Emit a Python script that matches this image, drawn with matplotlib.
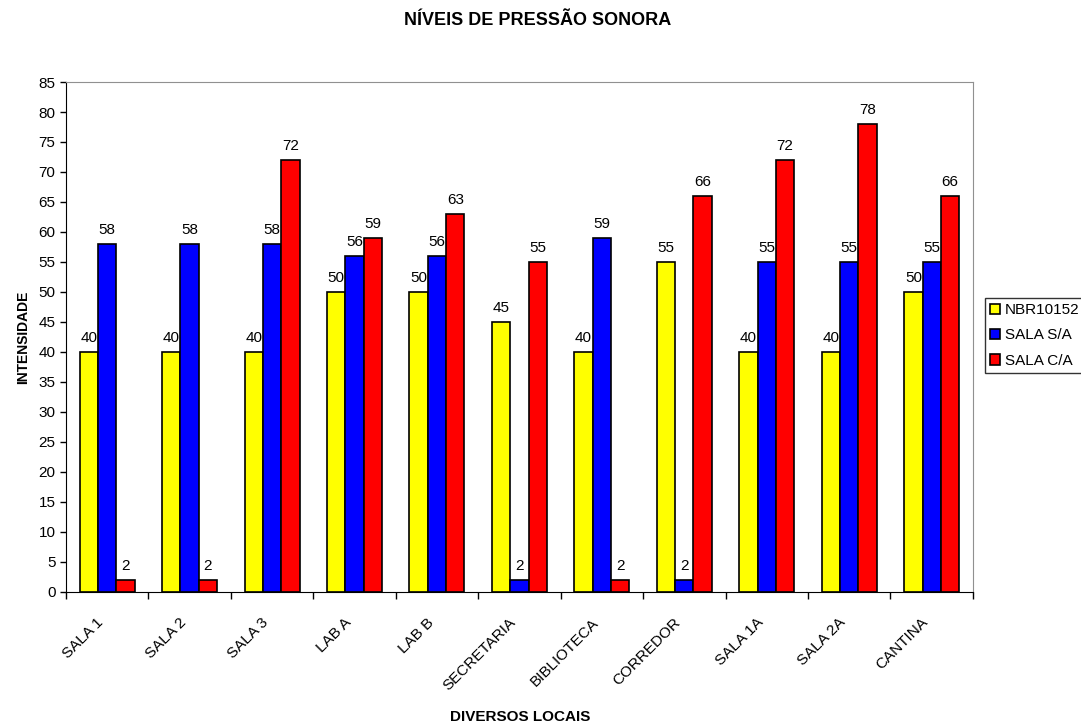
import numpy as np
import matplotlib
matplotlib.use("Agg")
import matplotlib.pyplot as plt

plt.rcParams.update({"font.family": ["Liberation Sans", "DejaVu Sans"], "font.size": 11})

locais = ["SALA 1", "SALA 2", "SALA 3", "LAB A", "LAB B", "SECRETARIA",
          "BIBLIOTECA", "CORREDOR", "SALA 1A", "SALA 2A", "CANTINA"]
nbr10152 = [40, 40, 40, 50, 50, 45, 40, 55, 40, 40, 50]
sala_sa = [58, 58, 58, 56, 56, 2, 59, 2, 55, 55, 55]
sala_ca = [2, 2, 72, 59, 63, 55, 2, 66, 72, 78, 66]
series = [("NBR10152", nbr10152, "#ffff00"),
          ("SALA S/A", sala_sa, "#0000ff"),
          ("SALA C/A", sala_ca, "#ff0000")]

fig = plt.figure(figsize=(10.81, 7.26), dpi=100)
ax = fig.add_axes([0.061, 0.185, 0.839, 0.702])

x = np.arange(len(locais))
w = 2 / 9
for i, (name, vals, col) in enumerate(series):
    pos = x + (i - 1) * w
    ax.bar(pos, vals, width=w, color=col, edgecolor="black", linewidth=1.2, label=name)
    for p, v in zip(pos, vals):
        ax.annotate(str(v), (p, v), xytext=(0, 5), textcoords="offset points",
                    ha="center", va="bottom", fontsize=11)

ax.set_xlim(-0.5, len(locais) - 0.5)
ax.set_ylim(0, 85)
ax.set_yticks(range(0, 90, 5))
# label anchors sit a little left of the group centres, as in the original
ax.set_xticks(x - 0.13)
ax.set_xticklabels(locais, rotation=45, ha="right", rotation_mode="anchor")
ax.set_xticks(np.arange(-0.5, len(locais)), minor=True)
ax.tick_params(axis="x", which="major", length=0, pad=17)
ax.tick_params(axis="x", which="minor", length=5, width=1, direction="out")
ax.tick_params(axis="y", length=4, width=1, direction="out")
for s in ("top", "right"):
    ax.spines[s].set_color("#909090")
for s in ("left", "bottom"):
    ax.spines[s].set_color("black")

ax.set_ylabel("INTENSIDADE", fontweight="bold", fontsize=10, labelpad=6)
fig.text(0.481, 0.013, "DIVERSOS LOCAIS", ha="center", va="center", fontweight="bold", fontsize=11)
fig.text(0.497, 0.972, "NÍVEIS DE PRESSÃO SONORA", ha="center", va="center",
         fontweight="bold", fontsize=13)

leg = fig.legend(loc="upper left", bbox_to_anchor=(0.911, 0.590), frameon=True,
                 fancybox=False, edgecolor="black", fontsize=11, handlelength=0.65,
                 handleheight=0.65, handletextpad=0.3, borderpad=0.35, labelspacing=0.75,
                 borderaxespad=0)
leg.get_frame().set_linewidth(1)

fig.savefig("out.png", dpi=100)
